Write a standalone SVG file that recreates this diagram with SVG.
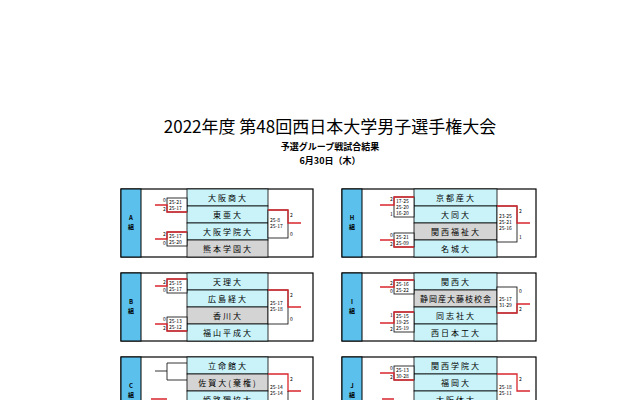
<svg xmlns="http://www.w3.org/2000/svg" width="640" height="400" viewBox="0 0 640 400">
<style>
text{font-family:"Noto Sans CJK JP","Liberation Sans",sans-serif;fill:#000}
.t{font-size:17px;text-anchor:middle}
.s{font-size:9px;font-weight:bold;text-anchor:middle}
.nm{font-size:8px;text-anchor:middle;letter-spacing:2px}
.sc{font-size:5px}
.lb{font-size:6px;font-weight:bold;text-anchor:middle}
.o{fill:#fff;stroke:#000;stroke-width:1.2}
.l{fill:#5bc0eb;stroke:#000;stroke-width:1}
.n{fill:#c9f3f9;stroke:#000;stroke-width:0.8}
.g{fill:#d4d4d4;stroke:#000;stroke-width:0.8}
.b{fill:#fff;stroke:#000;stroke-width:0.8}
.r{stroke:#d9262c;stroke-width:1.3;fill:none}
.k{stroke:#000;stroke-width:0.8;fill:none}
</style>
<rect width="640" height="400" fill="#fff"/>
<text class="t" x="330" y="133">2022年度  第48回西日本大学男子選手権大会</text>
<text class="s" x="330" y="150">予選グループ戦試合結果</text>
<text class="s" x="330" y="164">6月30日（木）</text>

<g id="groupA" transform="translate(121,189)">
<rect class="o" width="192" height="68"/><rect class="l" width="20" height="68"/>
<text class="lb" x="10" y="31">A</text><text class="lb" x="10" y="40">組</text>
<rect class="n" x="66" y="0" width="81" height="17"/><rect class="n" x="66" y="17" width="81" height="17"/><rect class="n" x="66" y="34" width="81" height="17"/><rect class="g" x="66" y="51" width="81" height="17"/>
<text class="nm" x="107" y="12">大阪商大</text><text class="nm" x="107" y="29">東亜大</text><text class="nm" x="107" y="46">大阪学院大</text><text class="nm" x="107" y="63">熊本学園大</text>
<rect class="b" x="46" y="9" width="20" height="14"/><path class="r" d="M34 16H46V23H66"/><text class="sc" x="48" y="15">25-21</text><text class="sc" x="48" y="21">25-17</text><text class="sc" x="42" y="13">0</text><text class="sc" x="42" y="22">2</text>
<rect class="b" x="46" y="43" width="20" height="14"/><path class="r" d="M34 50H46V43H66"/><text class="sc" x="48" y="49">25-17</text><text class="sc" x="48" y="55">25-20</text><text class="sc" x="42" y="47">2</text><text class="sc" x="42" y="56">0</text>
<rect class="b" x="147" y="21" width="20" height="28"/><path class="r" d="M147 21H167V34H180"/><text class="sc" x="149" y="33">25-8</text><text class="sc" x="149" y="39">25-17</text><text class="sc" x="169" y="28">2</text><text class="sc" x="169" y="47">0</text>
</g>

<g id="groupB" transform="translate(121,273)">
<rect class="o" width="192" height="68"/><rect class="l" width="20" height="68"/>
<text class="lb" x="10" y="31">B</text><text class="lb" x="10" y="40">組</text>
<rect class="n" x="66" y="0" width="81" height="17"/><rect class="n" x="66" y="17" width="81" height="17"/><rect class="g" x="66" y="34" width="81" height="17"/><rect class="n" x="66" y="51" width="81" height="17"/>
<text class="nm" x="107" y="12">天理大</text><text class="nm" x="107" y="29">広島経大</text><text class="nm" x="107" y="46">香川大</text><text class="nm" x="107" y="63">福山平成大</text>
<rect class="b" x="46" y="6" width="20" height="14"/><path class="r" d="M34 13H46V6H66"/><text class="sc" x="48" y="12">25-15</text><text class="sc" x="48" y="18">25-17</text><text class="sc" x="42" y="11">2</text><text class="sc" x="42" y="19">0</text>
<rect class="b" x="46" y="44" width="20" height="14"/><path class="r" d="M34 51H46V58H66"/><text class="sc" x="48" y="50">25-13</text><text class="sc" x="48" y="56">25-12</text><text class="sc" x="42" y="48">0</text><text class="sc" x="42" y="57">2</text>
<rect class="b" x="147" y="17" width="20" height="34"/><path class="r" d="M147 17H167V34H180"/><text class="sc" x="149" y="32">25-17</text><text class="sc" x="149" y="38">25-18</text><text class="sc" x="169" y="24">2</text><text class="sc" x="169" y="48">0</text>
</g>

<g id="groupC" transform="translate(121,357)">
<rect class="o" width="192" height="68"/><rect class="l" width="20" height="68"/>
<text class="lb" x="10" y="31">C</text><text class="lb" x="10" y="40">組</text>
<rect class="n" x="66" y="0" width="81" height="17"/><rect class="g" x="66" y="17" width="81" height="17"/><rect class="n" x="66" y="34" width="81" height="17"/>
<text class="nm" x="107" y="12">立命館大</text><text class="nm" x="107" y="29">佐賀大(棄権)</text><text class="nm" x="107" y="46">姫路獨協大</text>
<path class="k" d="M34 14H46V6H66M46 14V23H66"/>
<path class="r" d="M30 42H46M147 17H167V34H180"/>
<path class="k" d="M167 34V51"/>
<text class="sc" x="149" y="32">25-14</text><text class="sc" x="149" y="38">25-14</text><text class="sc" x="169" y="24">2</text>
</g>

<g id="groupH" transform="translate(342,189)">
<rect class="o" width="194" height="68"/><rect class="l" width="20" height="68"/>
<text class="lb" x="10" y="31">H</text><text class="lb" x="10" y="40">組</text>
<rect class="n" x="72" y="0" width="83" height="17"/><rect class="n" x="72" y="17" width="83" height="17"/><rect class="g" x="72" y="34" width="83" height="17"/><rect class="n" x="72" y="51" width="83" height="17"/>
<text class="nm" x="114" y="12">京都産大</text><text class="nm" x="114" y="29">大同大</text><text class="nm" x="114" y="46">関西福祉大</text><text class="nm" x="114" y="63">名城大</text>
<rect class="b" x="52" y="8" width="20" height="20"/><path class="r" d="M38 16H52V8H72"/><text class="sc" x="54" y="14">17-25</text><text class="sc" x="54" y="20">25-20</text><text class="sc" x="54" y="26">16-20</text><text class="sc" x="48" y="12">2</text><text class="sc" x="48" y="27">1</text>
<rect class="b" x="52" y="44" width="20" height="14"/><path class="r" d="M38 51H52V58H72"/><text class="sc" x="54" y="50">25-21</text><text class="sc" x="54" y="56">25-09</text><text class="sc" x="48" y="48">0</text><text class="sc" x="48" y="57">2</text>
<rect class="b" x="155" y="17" width="20" height="36"/><path class="r" d="M155 17H175V34H188"/><text class="sc" x="157" y="29">23-25</text><text class="sc" x="157" y="35">25-21</text><text class="sc" x="157" y="41">25-16</text><text class="sc" x="177" y="24">2</text><text class="sc" x="177" y="50">1</text>
</g>

<g id="groupI" transform="translate(342,273)">
<rect class="o" width="194" height="68"/><rect class="l" width="20" height="68"/>
<text class="lb" x="10" y="31">I</text><text class="lb" x="10" y="40">組</text>
<rect class="n" x="72" y="0" width="83" height="17"/><rect class="g" x="72" y="17" width="83" height="17"/><rect class="n" x="72" y="34" width="83" height="17"/><rect class="n" x="72" y="51" width="83" height="17"/>
<text class="nm" x="114" y="12">関西大</text><text class="nm" x="114" y="29" style="letter-spacing:1px">静岡産大藤枝校舎</text><text class="nm" x="114" y="46">同志社大</text><text class="nm" x="114" y="63">西日本工大</text>
<rect class="b" x="52" y="7" width="20" height="14"/><path class="r" d="M38 14H52V7H72"/><text class="sc" x="54" y="13">25-16</text><text class="sc" x="54" y="19">25-22</text><text class="sc" x="48" y="12">2</text><text class="sc" x="48" y="20">0</text>
<rect class="b" x="52" y="39" width="20" height="20"/><path class="r" d="M38 50H52V39H72"/><text class="sc" x="54" y="45">25-15</text><text class="sc" x="54" y="51">19-25</text><text class="sc" x="54" y="57">25-19</text><text class="sc" x="48" y="44">1</text><text class="sc" x="48" y="58">2</text>
<rect class="b" x="155" y="14" width="20" height="26"/><path class="r" d="M155 40H175V31H188"/><text class="sc" x="157" y="28">25-17</text><text class="sc" x="157" y="34">31-29</text><text class="sc" x="177" y="20">0</text><text class="sc" x="177" y="38">2</text>
</g>

<g id="groupJ" transform="translate(342,357)">
<rect class="o" width="194" height="68"/><rect class="l" width="20" height="68"/>
<text class="lb" x="10" y="31">J</text><text class="lb" x="10" y="40">組</text>
<rect class="n" x="72" y="0" width="83" height="17"/><rect class="n" x="72" y="17" width="83" height="17"/><rect class="n" x="72" y="34" width="83" height="17"/>
<text class="nm" x="114" y="12">関西学院大</text><text class="nm" x="114" y="29">福岡大</text><text class="nm" x="114" y="46">大阪体大</text>
<rect class="b" x="52" y="9" width="20" height="14"/><path class="r" d="M38 16H52V23H72"/><text class="sc" x="54" y="15">25-13</text><text class="sc" x="54" y="21">30-28</text><text class="sc" x="48" y="13">0</text><text class="sc" x="48" y="22">2</text>
<path class="r" d="M40 42H52M155 17H175V34H188"/>
<text class="sc" x="157" y="32">25-18</text><text class="sc" x="157" y="38">25-11</text><text class="sc" x="177" y="24">2</text>
</g>
</svg>
